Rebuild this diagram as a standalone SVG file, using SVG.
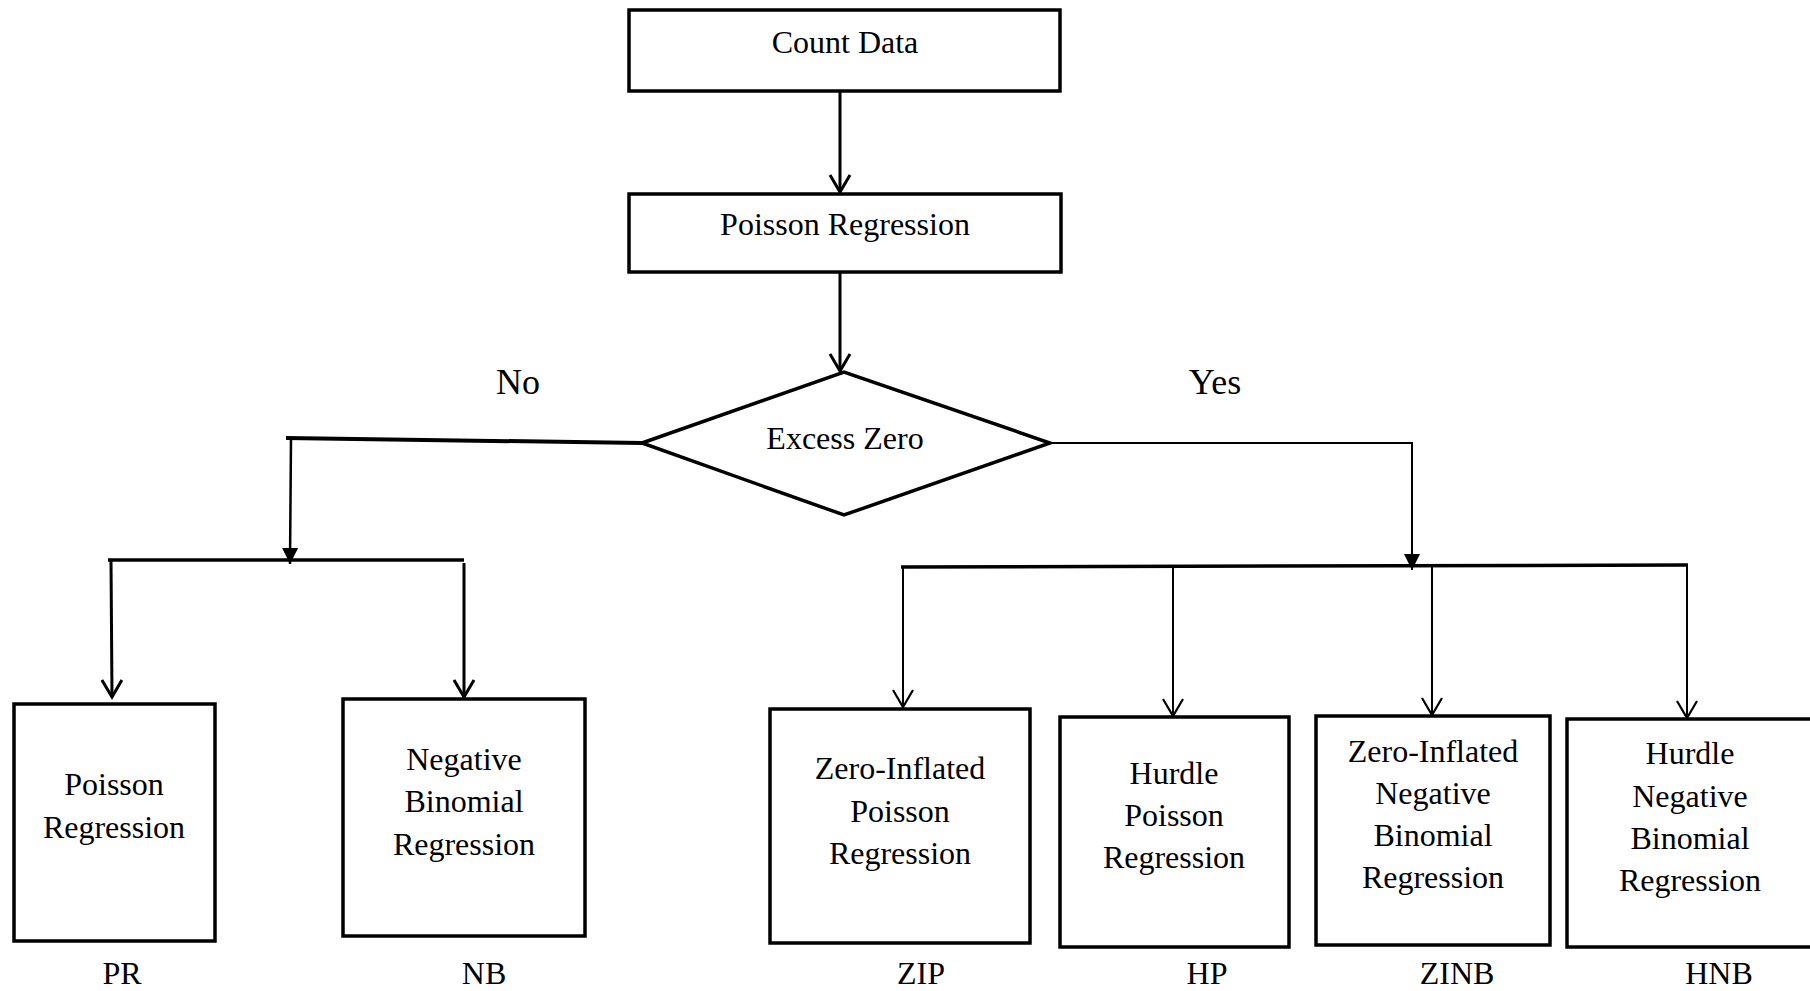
<svg xmlns="http://www.w3.org/2000/svg" width="1810" height="991" viewBox="0 0 1810 991">
<style>
.box{fill:#fff;stroke:#000;stroke-width:3.5}
.t{font-family:"Liberation Serif","Times New Roman",serif;font-size:32px;fill:#000;text-anchor:middle}
.big{font-size:36px}
.c{fill:none;stroke:#000;stroke-linecap:butt}
</style>
<defs>
<marker id="open" viewBox="-20 -12 24 24" refX="0" refY="0" markerWidth="24" markerHeight="24" markerUnits="userSpaceOnUse" orient="auto" overflow="visible">
<path d="M-17,-10 L0,0 L-17,10" fill="none" stroke="#000" stroke-width="3"/>
</marker>
<marker id="openThin" viewBox="-20 -12 24 24" refX="0" refY="0" markerWidth="24" markerHeight="24" markerUnits="userSpaceOnUse" orient="auto" overflow="visible">
<path d="M-17,-10 L0,0 L-17,10" fill="none" stroke="#000" stroke-width="2.2"/>
</marker>
<marker id="fill" viewBox="-18 -10 20 20" refX="0" refY="0" markerWidth="20" markerHeight="20" markerUnits="userSpaceOnUse" orient="auto" overflow="visible">
<path d="M-16,-8 L0,0 L-16,8 Z" fill="#000"/>
</marker>
</defs>
<rect width="1810" height="991" fill="#fff"/>

<g id="connectors">
<line class="c" x1="840" y1="91" x2="840" y2="192" stroke-width="3" marker-end="url(#open)"/>
<line class="c" x1="840" y1="273" x2="840" y2="371" stroke-width="3" marker-end="url(#open)"/>
<polyline class="c" points="642,443 286,438" stroke-width="4"/>
<line class="c" x1="291" y1="438" x2="290" y2="564" stroke-width="2.5" marker-end="url(#fill)"/>
<line class="c" x1="108" y1="560" x2="464" y2="560" stroke-width="3.5"/>
<line class="c" x1="111" y1="560" x2="112" y2="697" stroke-width="3" marker-end="url(#open)"/>
<line class="c" x1="464" y1="563" x2="464" y2="697" stroke-width="3" marker-end="url(#open)"/>
<polyline class="c" points="1050,443 1412,443 1412,570" stroke-width="2" marker-end="url(#fill)"/>
<line class="c" x1="901" y1="567" x2="1688" y2="565" stroke-width="3.5"/>
<line class="c" x1="903" y1="567" x2="903" y2="707" stroke-width="2" marker-end="url(#openThin)"/>
<line class="c" x1="1173" y1="566" x2="1173" y2="716" stroke-width="2" marker-end="url(#openThin)"/>
<line class="c" x1="1432" y1="566" x2="1432" y2="715" stroke-width="2" marker-end="url(#openThin)"/>
<line class="c" x1="1687" y1="565" x2="1687" y2="718" stroke-width="2" marker-end="url(#openThin)"/>
</g>

<g id="count-data">
<rect class="box" x="629" y="10" width="431" height="81"/>
<text class="t" x="845" y="53">Count Data</text>
</g>

<g id="poisson-regression-top">
<rect class="box" x="629" y="194" width="432" height="78"/>
<text class="t" x="845" y="235">Poisson Regression</text>
</g>

<g id="excess-zero">
<polygon points="642,443 844,372 1050,443 844,515" fill="#fff" stroke="#000" stroke-width="3.5"/>
<text class="t" x="845" y="449">Excess Zero</text>
</g>

<g id="label-no"><text class="t big" x="518" y="394">No</text></g>
<g id="label-yes"><text class="t big" x="1215" y="394">Yes</text></g>

<g id="pr">
<rect class="box" x="14" y="704" width="201" height="237"/>
<text class="t" x="114" y="795">Poisson</text>
<text class="t" x="114" y="838">Regression</text>
<text class="t" x="122" y="984">PR</text>
</g>

<g id="nb">
<rect class="box" x="343" y="699" width="242" height="237"/>
<text class="t" x="464" y="770">Negative</text>
<text class="t" x="464" y="812">Binomial</text>
<text class="t" x="464" y="855">Regression</text>
<text class="t" x="484" y="984">NB</text>
</g>

<g id="zip">
<rect class="box" x="770" y="709" width="260" height="234"/>
<text class="t" x="900" y="779">Zero-Inflated</text>
<text class="t" x="900" y="822">Poisson</text>
<text class="t" x="900" y="864">Regression</text>
<text class="t" x="921" y="984">ZIP</text>
</g>

<g id="hp">
<rect class="box" x="1060" y="717" width="229" height="230"/>
<text class="t" x="1174" y="784">Hurdle</text>
<text class="t" x="1174" y="826">Poisson</text>
<text class="t" x="1174" y="868">Regression</text>
<text class="t" x="1207" y="984">HP</text>
</g>

<g id="zinb">
<rect class="box" x="1316" y="716" width="234" height="229"/>
<text class="t" x="1433" y="762">Zero-Inflated</text>
<text class="t" x="1433" y="804">Negative</text>
<text class="t" x="1433" y="846">Binomial</text>
<text class="t" x="1433" y="888">Regression</text>
<text class="t" x="1457" y="984">ZINB</text>
</g>

<g id="hnb">
<rect class="box" x="1567" y="719" width="250" height="228"/>
<text class="t" x="1690" y="764">Hurdle</text>
<text class="t" x="1690" y="807">Negative</text>
<text class="t" x="1690" y="849">Binomial</text>
<text class="t" x="1690" y="891">Regression</text>
<text class="t" x="1719" y="984">HNB</text>
</g>
</svg>
